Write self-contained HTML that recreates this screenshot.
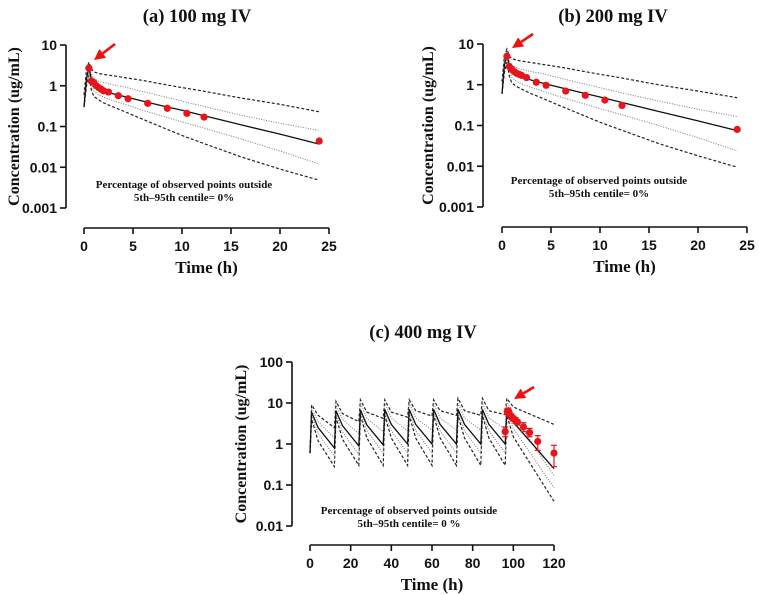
<!DOCTYPE html>
<html><head><meta charset="utf-8"><style>
html,body{margin:0;padding:0;background:#fff;width:759px;height:595px;overflow:hidden}
svg{display:block}
.tk{font-family:"Liberation Sans",Arial,sans-serif;font-weight:bold;font-size:14px;fill:#111}
.ser{font-family:"Liberation Serif","Times New Roman",serif;font-weight:bold;fill:#111}
</style></head><body>
<svg id="chart" width="759" height="595" viewBox="0 0 759 595" xmlns="http://www.w3.org/2000/svg"></svg>
<script>
// ---------- Panel (a) 100 mg ----------
const aTimes=[0,0.25,0.5,0.75,1,1.5,2,3,4,6,8,10,12,16,20,24];
const aMedian=[0.3,1.5,2.8,1.5,1.05,0.85,0.75,0.63,0.55,0.42,0.32,0.25,0.19,0.11,0.065,0.037];
const aP95=[0.6,2.5,3.8,2.6,2.2,2.0,1.9,1.75,1.6,1.35,1.1,0.9,0.75,0.5,0.35,0.23];
const aP5=[0.3,1.0,1.8,0.8,0.55,0.45,0.38,0.3,0.24,0.15,0.095,0.06,0.04,0.018,0.009,0.0048];
const aUpperDot=[0.5,2.0,3.2,2.0,1.5,1.3,1.2,1.05,0.95,0.72,0.55,0.42,0.32,0.19,0.12,0.08];
const aLowerDot=[0.35,1.2,2.2,1.1,0.75,0.6,0.52,0.43,0.36,0.25,0.18,0.13,0.095,0.05,0.025,0.012];
const aObsT=[0.5,0.75,1,1.25,1.5,1.75,2,2.5,3.5,4.5,6.5,8.5,10.5,12.25,24];
const aObsC=[2.7,1.3,1.2,1.0,0.9,0.82,0.75,0.7,0.57,0.48,0.37,0.28,0.21,0.17,0.044];
// ---------- Panel (b) 200 mg ----------
const bTimes=[0,0.25,0.5,0.75,1,1.5,2,3,4,6,8,10,12,16,20,24];
const bMedian=[0.6,3,5.5,3.0,2.1,1.75,1.55,1.3,1.12,0.85,0.65,0.5,0.38,0.22,0.13,0.075];
const bP95=[1.2,5,7.5,5,4.4,4.0,3.8,3.5,3.2,2.7,2.2,1.8,1.5,1.0,0.7,0.48];
const bP5=[0.6,2,3.6,1.6,1.1,0.9,0.78,0.6,0.48,0.3,0.19,0.12,0.08,0.036,0.018,0.0095];
const bUpperDot=[1.0,4,6.4,4,3.0,2.6,2.4,2.1,1.9,1.45,1.1,0.85,0.65,0.4,0.25,0.165];
const bLowerDot=[0.7,2.4,4.4,2.2,1.5,1.2,1.05,0.86,0.72,0.5,0.36,0.26,0.19,0.1,0.05,0.024];
const bObsT=[0.5,0.75,1,1.25,1.5,1.75,2,2.5,3.5,4.5,6.5,8.5,10.5,12.25,24];
const bObsC=[5.0,2.8,2.4,2.1,1.9,1.8,1.7,1.5,1.15,0.97,0.7,0.55,0.42,0.31,0.08];
// ---------- Panel (c) 400 mg multiple dose ----------
const cDoseTimes=[0,12,24,36,48,60,72,84,96];
const cStart=0.6;
const cMedPeak=[6,6.5,6.8,7,7,7,7,7,7];
const cMedMid=[2.5,2.8,2.9,3,3,3,3,3,3.4];
const cMedTrough=[0.8,0.9,0.95,1,1,1,1,1,0.25];
const cP95Peak=[9,11,12,12,12,12,13,13,13];
const cP95Mid=[5,5.5,6,6,6.5,6.5,6.5,6.5,8];
const cP95Trough=[2.5,3.5,4.2,4.5,4.8,5,5,5.2,3];
const cP5Peak=[4,4.5,5,5,5,5,5,5,5];
const cP5Mid=[1.2,1.3,1.4,1.4,1.4,1.4,1.4,1.4,1.5];
const cP5Trough=[0.28,0.3,0.3,0.3,0.3,0.3,0.3,0.3,0.04];
const cUDPeak=[7.5,9,10,10,10,10,10,10,11];
const cUDMid=[3.5,4,4.2,4.3,4.3,4.3,4.3,4.3,5];
const cUDTrough=[1.4,1.8,2,2.1,2.2,2.2,2.2,2.3,0.17];
const cLDPeak=[5,5.5,6,6,6,6,6,6,6];
const cLDMid=[1.8,2,2.1,2.1,2.1,2.1,2.1,2.1,2.4];
const cLDTrough=[0.5,0.55,0.6,0.6,0.6,0.6,0.6,0.6,0.085];
const cObsT=[96,97,97.5,98,99,100,101,102,105,108,112,120];
const cObsC=[2.0,6.2,6.5,5.5,4.7,4.2,3.8,3.4,2.6,1.9,1.15,0.6];
const cObsLo=[1.5,5.2,5.5,4.6,4.0,3.6,3.2,2.9,2.0,1.5,0.7,0.28];
const cObsHi=[2.6,7.2,7.5,6.4,5.4,4.8,4.4,3.9,3.3,2.4,1.6,0.93];

const svg=document.getElementById('chart');
const NS='http://www.w3.org/2000/svg';
function mk(tag,attrs,parent){const e=document.createElementNS(NS,tag);for(const k in attrs)e.setAttribute(k,attrs[k]);(parent||svg).appendChild(e);return e;}

function panel(cfg){
  const g=mk('g',{});
  
  
  const xs=t=>cfg.x0+(t-cfg.tmin)/(cfg.tmax-cfg.tmin)*(cfg.x1-cfg.x0);
  const ys=v=>cfg.yTop+(cfg.logTop-Math.log10(v))*cfg.dec;
  const ti=mk('text',{x:cfg.titleX,y:cfg.titleY,'text-anchor':'middle','font-size':'18.5',class:'ser'},g);ti.textContent=cfg.title;
  
  const yBot=ys(cfg.yTicks[cfg.yTicks.length-1]);
  const ya=mk('line',{x1:cfg.yAxisX,x2:cfg.yAxisX,y1:cfg.yTop,y2:yBot,stroke:'#111','stroke-width':1.6},g);
  
  cfg.yTicks.forEach((v,i)=>{const y=ys(v);
    mk('line',{x1:cfg.yAxisX-6,x2:cfg.yAxisX,y1:y,y2:y,stroke:'#111','stroke-width':1.6},g);
    const t=mk('text',{x:cfg.yAxisX-9,y:y+5,'text-anchor':'end',class:'tk'},g);t.textContent=cfg.yLabels[i];
    });
  const xa=mk('line',{x1:cfg.x0,x2:cfg.x1,y1:cfg.xAxisY,y2:cfg.xAxisY,stroke:'#111','stroke-width':1.6},g);
  
  cfg.xTicks.forEach(v=>{const x=xs(v);
    mk('line',{x1:x,x2:x,y1:cfg.xAxisY,y2:cfg.xAxisY+6,stroke:'#111','stroke-width':1.6},g);
    const t=mk('text',{x:x,y:cfg.xAxisY+23,'text-anchor':'middle',class:'tk'},g);t.textContent=v;
    });
  const xl=mk('text',{x:(cfg.x0+cfg.x1)/2,y:cfg.xAxisY+45,'text-anchor':'middle','font-size':'17',class:'ser'},g);xl.textContent='Time (h)';
  
  const yl=mk('text',{x:0,y:0,'text-anchor':'middle','font-size':'16',class:'ser',transform:`translate(${cfg.yTitleX},${(cfg.yTop+yBot)/2}) rotate(-90)`},g);yl.textContent='Concentration (ug/mL)';
  
  const an=mk('text',{x:cfg.annX,y:cfg.annY,'text-anchor':'middle','font-size':'11','font-weight':'bold',class:'ser'},g);
  
  const s1=mk('tspan',{x:cfg.annX,dy:0},an);s1.textContent='Percentage of observed points outside';
  const s2=mk('tspan',{x:cfg.annX,dy:13},an);s2.textContent=cfg.annText;
  return {g,xs,ys};
}
const styles={
  median:{stroke:'#111','stroke-width':1.3,fill:'none'},
  p95:{stroke:'#222','stroke-width':1.2,fill:'none','stroke-dasharray':'3,2'},
  p5:{stroke:'#222','stroke-width':1.2,fill:'none','stroke-dasharray':'3,2'},
  dot:{stroke:'#777','stroke-width':1,fill:'none','stroke-dasharray':'1,1.5'}
};
function line(p,ts,vs,st,name){
  const d=ts.map((t,i)=>(i?'L':'M')+p.xs(t).toFixed(1)+','+p.ys(vs[i]).toFixed(1)).join('');
  const e=mk('path',Object.assign({d},styles[st]),p.g);
  
  
}
function points(p,ts,vs,name){
  ts.forEach((t,i)=>{const c=mk('circle',{cx:p.xs(t),cy:p.ys(vs[i]),r:3.6,fill:'#e8141b'},p.g);
    
    });
}
function arrow(p,x1,y1,x2,y2){
  const a=Math.atan2(y2-y1,x2-x1),L=11,W=5.5;
  const bx=x2-L*Math.cos(a),by=y2-L*Math.sin(a);
  const e=mk('g',{},p.g);
  
  
  mk('line',{x1,y1,x2:bx,y2:by,stroke:'#f01010','stroke-width':2.6},e);
  mk('polygon',{points:`${x2},${y2} ${bx+W*Math.sin(a)},${by-W*Math.cos(a)} ${bx-W*Math.sin(a)},${by+W*Math.cos(a)}`,fill:'#f01010'},e);
}

const pa=panel({name:'panel-a-100mg',title:'(a) 100 mg IV',titleX:197,titleY:22,x0:84,x1:329,tmin:0,tmax:25,yAxisX:66,yTop:45,logTop:1,dec:40.75,
  yTicks:[10,1,0.1,0.01,0.001],yLabels:['10','1','0.1','0.01','0.001'],xTicks:[0,5,10,15,20,25],xAxisY:228,yTitleX:19,
  annX:184,annY:188,annText:'5th–95th centile= 0%'});
line(pa,aTimes,aP95,'p95','p95-line');line(pa,aTimes,aP5,'p5','p5-line');
line(pa,aTimes,aUpperDot,'dot','upper-dotted-line');line(pa,aTimes,aLowerDot,'dot','lower-dotted-line');
line(pa,aTimes,aMedian,'median','median-line');
points(pa,aObsT,aObsC,'observed-point');
arrow(pa,115,44,94,60);

const pb=panel({name:'panel-b-200mg',title:'(b) 200 mg IV',titleX:613,titleY:22,x0:502,x1:747,tmin:0,tmax:25,yAxisX:483,yTop:44,logTop:1,dec:40.75,
  yTicks:[10,1,0.1,0.01,0.001],yLabels:['10','1','0.1','0.01','0.001'],xTicks:[0,5,10,15,20,25],xAxisY:227,yTitleX:433,
  annX:599,annY:184,annText:'5th–95th centile= 0%'});
line(pb,bTimes,bP95,'p95','p95-line');line(pb,bTimes,bP5,'p5','p5-line');
line(pb,bTimes,bUpperDot,'dot','upper-dotted-line');line(pb,bTimes,bLowerDot,'dot','lower-dotted-line');
line(pb,bTimes,bMedian,'median','median-line');
points(pb,bObsT,bObsC,'observed-point');
arrow(pb,533,34,512,48);

const pc=panel({name:'panel-c-400mg',title:'(c) 400 mg IV',titleX:423,titleY:338,x0:310,x1:554,tmin:0,tmax:120,yAxisX:292,yTop:362,logTop:2,dec:41,
  yTicks:[100,10,1,0.1,0.01],yLabels:['100','10','1','0.1','0.01'],xTicks:[0,20,40,60,80,100,120],xAxisY:545,yTitleX:246,
  annX:409,annY:514,annText:'5th–95th centile= 0 %'});
function multiDose(p,peak,mid,trough,st,name){
  const ts=[0],vs=[cStart];
  cDoseTimes.forEach((d,i)=>{
    const end=i<cDoseTimes.length-1?cDoseTimes[i+1]:120;
    ts.push(d+0.8,d+4,end);vs.push(peak[i],mid[i],trough[i]);
  });
  line(p,ts,vs,st,name);
}
multiDose(pc,cP95Peak,cP95Mid,cP95Trough,'p95','p95-line');
multiDose(pc,cP5Peak,cP5Mid,cP5Trough,'p5','p5-line');
multiDose(pc,cUDPeak,cUDMid,cUDTrough,'dot','upper-dotted-line');
multiDose(pc,cLDPeak,cLDMid,cLDTrough,'dot','lower-dotted-line');
multiDose(pc,cMedPeak,cMedMid,cMedTrough,'median','median-line');
cObsT.forEach((t,i)=>{const x=pc.xs(t),y1=pc.ys(cObsLo[i]),y2=pc.ys(cObsHi[i]);
  const e=mk('g',{},pc.g);
  
  
  mk('line',{x1:x,x2:x,y1,y2,stroke:'#e8141b','stroke-width':1.2},e);
  mk('line',{x1:x-3,x2:x+3,y1,y2:y1,stroke:'#e8141b','stroke-width':1.2},e);
  mk('line',{x1:x-3,x2:x+3,y1:y2,y2:y2,stroke:'#e8141b','stroke-width':1.2},e);});
points(pc,cObsT,cObsC,'observed-point');
arrow(pc,534,387,514,399);
</script>
</body></html>
